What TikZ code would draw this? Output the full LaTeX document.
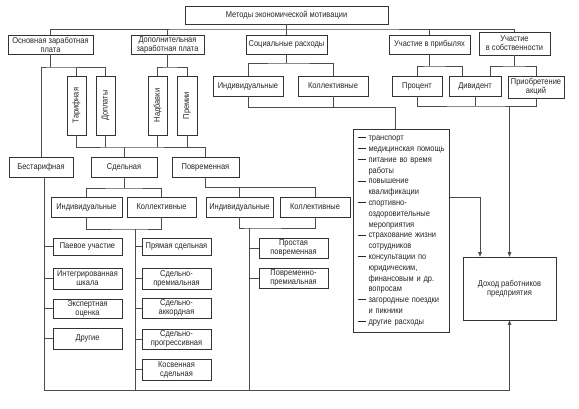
\documentclass[tikz,border=0pt]{standalone}
\usepackage{fontspec}
\usepackage{tikz}
\usetikzlibrary{arrows.meta}
\newfontfamily\dfont[FakeStretch=0.88]{Liberation Sans}
\newcommand{\fs}{\dfont\fontsize{8.5}{9}\selectfont}
\newcommand{\lfs}{\dfont\fontsize{8.5}{10.8}\selectfont}
\newcommand{\dsh}{\makebox[11pt][l]{\rule[2.4pt]{8pt}{0.9pt}}}
\newcommand{\cnt}{\hspace*{11pt}}
\tikzset{
  box/.style     = {draw=black!80, line width=0.7pt, fill=white, inner sep=1pt,
                    align=center, font=\fs, text=black!85},
  sz/.style 2 args = {minimum width=#1pt, minimum height=#2pt},
  vbox/.style    = {box, rotate=90},
  conn/.style    = {draw=black!70, line width=0.65pt},
  arr/.style     = {conn, -{Triangle[length=4.5pt,width=3.6pt]}}
}

\begin{document}
\begin{tikzpicture}[x=1pt,y=-1pt]
  \useasboundingbox[fill=white] (0,0) rectangle (579,408);
  % top level
  \node[box,sz={203}{18}] (top) at (286.5,15) {Методы экономической мотивации};
  \node[box,sz={85}{19}]  (osn) at (50.5,44.5) {Основная заработная\\плата};
  \node[box,sz={73}{19}]  (dop) at (167.5,44.5) {Дополнительная\\заработная плата};
  \node[box,sz={81}{19}]  (soc) at (286.5,44.5) {Социальные расходы};
  \node[box,sz={81}{19}]  (uch) at (429.5,44.5) {Участие в прибылях};
  \node[box,sz={71}{23}]  (sob) at (514.5,43.5) {Участие\\в собственности};
  % vertical boxes
  \node[vbox,sz={59}{19}] (tar)  at (76.5,105.5)  {Тарифная};
  \node[vbox,sz={59}{19}] (dopl) at (105.5,105.5) {Доплаты};
  \node[vbox,sz={59}{19}] (nad)  at (157.5,105.5) {Надбавки};
  \node[vbox,sz={59}{20}] (prem) at (187,105.5)   {Премии};
  % social and profit
  \node[box,sz={70}{20}] (ind3) at (248,86)   {Индивидуальные};
  \node[box,sz={70}{20}] (kol3) at (333,86)   {Коллективные};
  \node[box,sz={50}{20}] (pro)  at (417,86)   {Процент};
  \node[box,sz={52}{20}] (div)  at (475,86)   {Дивидент};
  \node[box,sz={56}{22}] (akc)  at (536,87)   {Приобретение\\акций};
  % pay forms
  \node[box,sz={64}{20}] (bes) at (41,167)    {Бестарифная};
  \node[box,sz={66}{20}] (sdl) at (124,167)   {Сдельная};
  \node[box,sz={67}{20}] (pov) at (205.5,167) {Повременная};
  \node[box,sz={71}{20}] (ind1) at (86.5,207)  {Индивидуальные};
  \node[box,sz={69}{20}] (kol1) at (161.5,207) {Коллективные};
  \node[box,sz={67}{20}] (ind2) at (239.5,207) {Индивидуальные};
  \node[box,sz={70}{20}] (kol2) at (315,207)   {Коллективные};
  % left list
  \node[box,sz={69}{17}] (pae) at (87.5,246.5) {Паевое участие};
  \node[box,sz={69}{21}] (int) at (87.5,278.5) {Интегрированная\\шкала};
  \node[box,sz={69}{19}] (eks) at (87.5,308.5) {Экспертная\\оценка};
  \node[box,sz={69}{21}] (dru) at (87.5,338.5) {Другие};
  % middle list
  \node[box,sz={69}{17}] (prs) at (176.5,246.5) {Прямая сдельная};
  \node[box,sz={69}{21}] (spr) at (176.5,278.5) {Сдельно-\\премиальная};
  \node[box,sz={69}{20}] (sak) at (176.5,308)   {Сдельно-\\аккордная};
  \node[box,sz={69}{20}] (spg) at (176.5,339)   {Сдельно-\\прогрессивная};
  \node[box,sz={69}{21}] (kos) at (176.5,369.5) {Косвенная\\сдельная};
  % right list
  \node[box,sz={69}{20}] (ppv) at (293.5,248) {Простая\\повременная};
  \node[box,sz={69}{20}] (ppm) at (293.5,278) {Повременно-\\премиальная};
  % social expenses
  \node[box,align=left,font=\lfs,inner xsep=4pt,inner ysep=6.5pt,
        text width=88pt] (lst) at (401.5,231)
    {\dsh транспорт\\
     \dsh медицинская помощь\\
     \dsh питание во время\\
     \cnt работы\\
     \dsh повышение\\
     \cnt квалификации\\
     \dsh спортивно-\\
     \cnt оздоровительные\\
     \cnt мероприятия\\
     \dsh страхование жизни\\
     \cnt сотрудников\\
     \dsh консультации по\\
     \cnt юридическим,\\
     \cnt финансовым и др.\\
     \cnt вопросам\\
     \dsh загородные поездки\\
     \cnt и пикники\\
     \dsh другие расходы};
  \node[box,sz={93}{63}] (doh) at (509.5,288.5) {Доход работников\\предприятия};

  % bus points
  \coordinate (busA) at (286.5,29);
  \coordinate (busB) at (50.5,67);
  \coordinate (busC) at (167.5,67);
  \coordinate (busD) at (124,147);
  \coordinate (busE) at (124,188);
  \coordinate (busF) at (135,229);
  \coordinate (busG) at (205.5,187);
  \coordinate (busH) at (249,228);
  \coordinate (busI) at (286.5,63);
  \coordinate (busJ) at (395,107);
  \coordinate (busK) at (429.5,66);
  \coordinate (busL) at (514.5,66);
  \coordinate (busM) at (475,106);
  \coordinate (vL)   at (44,390);
  \coordinate (lstOut) at ([yshift=34pt]lst.east);

  \draw[conn] (top) -- (soc);
  \draw[conn] (osn) |- (busA) -| (sob);
  \draw[conn] (dop) -- (dop |- busA);
  \draw[conn] (uch) -- (uch |- busA);
  % main pay
  \draw[conn] (osn) -- (busB);
  \draw[conn] (bes) |- (busB) -| (dopl);
  \draw[conn] (tar) -- (tar |- busB);
  \draw[conn] (dop) -- (busC);
  \draw[conn] (nad) |- (busC) -| (prem);
  \draw[conn] (tar) |- (busD) -| (pov);
  \foreach \n in {dopl,nad,prem} \draw[conn] (\n) -- (\n |- busD);
  \draw[conn] (busD) -- (sdl);
  \draw[conn] (sdl) -- (busE);
  \draw[conn] (ind1) |- (busE) -| (kol1);
  \draw[conn] (ind1) |- (busF) -| (kol1);
  \draw[conn] (pov) -- (busG) -| (kol2);
  \draw[conn] (ind2) -- (ind2 |- busG);
  \draw[conn] (ind2) |- (busH) -| (kol2);
  \draw[conn] (bes.south -| vL) -- (vL);
  \draw[conn] (busF) -- (busF |- vL);
  \draw[conn] (busH) -- (busH |- vL);
  \foreach \n in {pae,int,eks,dru} \draw[conn] (\n) -- (\n -| vL);
  \foreach \n in {prs,spr,sak,spg,kos} \draw[conn] (\n) -- (\n -| busF);
  \foreach \n in {ppv,ppm} \draw[conn] (\n) -- (\n -| busH);
  % social
  \draw[conn] (soc) -- (busI);
  \draw[conn] (ind3) |- (busI) -| (kol3);
  \draw[conn] (ind3) |- (busJ) -- (busJ |- lst.north);
  \draw[conn] (kol3) -- (kol3 |- busJ);
  % profit and property
  \draw[conn] (uch) -- (busK);
  \draw[conn] (pro) |- (busK) -| ([xshift=-13pt]div.north);
  \draw[conn] (sob) -- (busL);
  \draw[conn] ([xshift=15pt]div.north) |- (busL) -| (akc);
  \draw[conn] (pro) |- (busM) -| (akc);
  \draw[conn] (div) -- (busM);
  % income
  \draw[arr] (busM -| doh) -- (doh);
  \draw[arr] (lstOut) -| ([xshift=-29.5pt]doh.north);
  \draw[arr] (vL) -| (doh);
\end{tikzpicture}
\end{document}
